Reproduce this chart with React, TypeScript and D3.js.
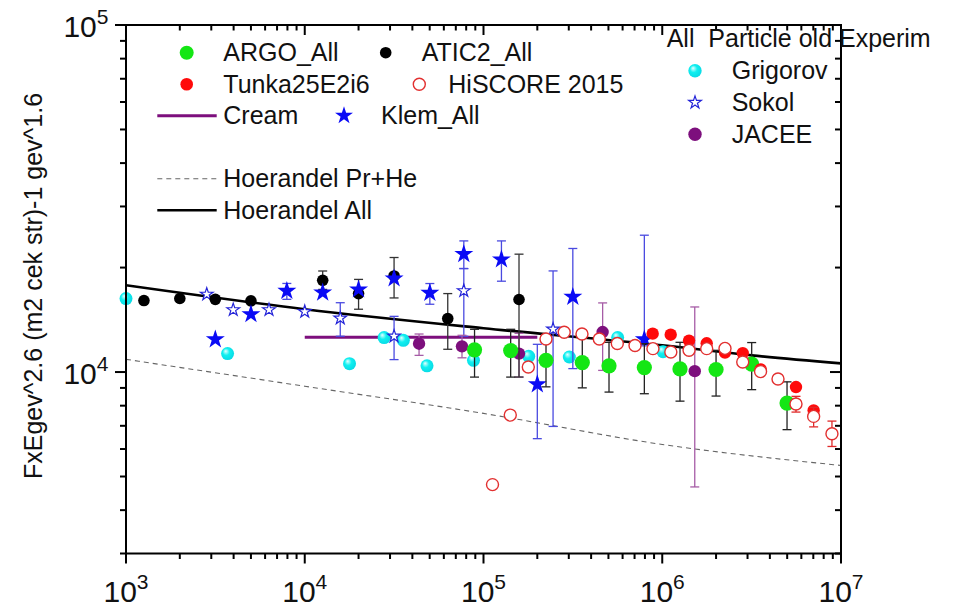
import React from 'react';
import * as d3 from 'd3';

// ---- chart data (energy in GeV, flux × E^2.6) ----

const argoE = [89100, 141900, 223700, 357000, 503700, 794000, 1257000, 2000000, 3165000, 4990000];
const argoF = [11590, 11530, 10810, 10650, 10420, 10300, 10210, 10170, 10540, 8140];
const argoLo = [9670, 9670, 9065, 9003, 8755, 8660, 8244, 8527, 8897, 6823];
const argoHi = [13280, 13280, 12260, 12610, 12180, 12070, 12180, 11550, 12160, 9370];

const aticE = [1260, 2000, 3160, 5000, 12600, 20000, 31600, 63100, 158000];
const aticF = [16070, 16290, 16200, 16030, 18380, 16830, 18920, 14260, 16180];
const aticLo = [NaN, NaN, NaN, NaN, 17300, 15170, 16350, 11630, 9674];
const aticHi = [NaN, NaN, NaN, NaN, 19550, 18490, 21380, 16830, 21860];

const tunkaE = [884000, 1115000, 1412000, 1773000, 2244000, 2820000, 3555000, 5600000, 7030000];
const tunkaF = [12900, 12810, 12320, 12100, 11380, 11340, 10170, 9053, 7754];

const hiscoreE = [112300, 141200, 178100, 223700, 282800, 355600, 444500, 560500, 704000, 887000,
  1117000, 1412000, 1773000, 2244000, 2820000, 3548000, 4442000, 5600000, 7030000, 8900000];
const hiscoreF = [4738, 7516, 10340, 12450, 13020, 12870, 12450, 12080, 11920, 11680,
  11420, 11550, 11680, 11700, 10690, 10030, 9546, 8089, 7451, 6643];
const hiscoreLo = [NaN, NaN, NaN, NaN, NaN, NaN, NaN, NaN, NaN, NaN,
  NaN, NaN, NaN, NaN, NaN, NaN, NaN, 7667, 6950, 6103];
const hiscoreHi = [NaN, NaN, NaN, NaN, NaN, NaN, NaN, NaN, NaN, NaN,
  NaN, NaN, NaN, NaN, NaN, NaN, NaN, 8510, 7909, 7222];

const creamE = [10000, 200000];
const creamF = [12590, 12590];

const klemE = [3160, 5000, 7940, 12600, 20000, 31600, 50100, 77600, 126000, 200000, 316000, 794000];
const klemF = [12420, 14670, 17125, 16940, 17290, 18600, 16900, 21860, 21100, 9215, 16460, 12420];
const klemLo = [NaN, NaN, 16200, NaN, NaN, NaN, 15680, 19870, 18270, 6427, 10230, 11900];
const klemHi = [NaN, NaN, 18000, NaN, NaN, NaN, 17990, 23870, 23870, 12020, 22700, 24790];

const hoerPrHeE = [1e3, 1e4, 1e5, 1e6, 1e7];
const hoerPrHeF = [10880, 9100, 7600, 6185, 5380];

const hoerAllE = [1e3, 1e4, 1e5, 1e6, 3.16e6, 1e7];
const hoerAllF = [17780, 15170, 13370, 11940, 11170, 10590];

const grigorovE = [1000, 3700, 17800, 27800, 35600, 48300, 87900, 179000, 302000, 563000, 1010000];
const grigorovF = [16280, 11300, 10570, 12570, 12340, 10420, 10810, 11100, 11050, 12570, 11450];

const sokolE = [2830, 3980, 6310, 10000, 15800, 31600, 77600, 245000];
const sokolF = [16750, 15110, 15110, 14930, 14290, 12680, 17140, 13280];
const sokolLo = [NaN, NaN, NaN, NaN, 12680, 10860, 12680, 6970];
const sokolHi = [NaN, NaN, NaN, NaN, 15840, 14470, 19870, 19560];

const jaceeE = [43600, 75800, 158000, 464000, 1520000];
const jaceeF = [12070, 11860, 11300, 13040, 10060];
const jaceeLo = [11170, 10990, 9670, 10110, 4666];
const jaceeHi = [12870, 12760, 12930, 15820, 15400];

const xMajorTicks = [1e3, 1e4, 1e5, 1e6, 1e7];
const xTickExp = ['3', '4', '5', '6', '7'];
const yMajorTicks = [1e4, 1e5];
const yTickExp = ['4', '5'];

const yTitle = 'FxEgev^2.6 (m2 cek str)-1 gev^1.6';

// ---- styling ----
const FONT = "'Liberation Sans', Arial, Helvetica, sans-serif";
const W = 956;
const H = 609;
const P = { left: 126, right: 841, top: 25, bottom: 553.5 };

const GREEN = '#14e614';
const RED = '#ff0a0a';
const BLUE = '#0a0af5';
const PURPLE = '#7d0f7d';
const CYAN = '#10f0f0';

type Bars = { E: number[]; lo: number[]; hi: number[] };

export default function App() {
  const x = d3.scaleLog().domain([1e3, 1e7]).range([P.left, P.right]);
  const y = d3.scaleLog().domain([3000, 1e5]).range([P.bottom, P.top]);

  const line = d3
    .line<[number, number]>()
    .x((d) => x(d[0]))
    .y((d) => y(d[1]))
    .curve(d3.curveMonotoneX);

  const zip = (a: number[], b: number[]) => a.map((v, i) => [v, b[i]] as [number, number]);

  const bigStar = d3.symbol().type(d3.symbolStar).size(112)() as string;
  const legendBigStar = d3.symbol().type(d3.symbolStar).size(100)() as string;
  const smallStar = d3.symbol().type(d3.symbolStar).size(50)() as string;

  const xTicks = x.ticks();
  const yTicks = y.ticks();
  const isMajor = (v: number) => Math.abs(Math.log10(v) - Math.round(Math.log10(v))) < 1e-6;

  const errBars = ({ E, lo, hi }: Bars, color: string, key: string, cap = 4.5) =>
    E.map((e, i) => {
      if (!isFinite(lo[i]) || !isFinite(hi[i])) return null;
      const cx = x(e);
      const y1 = y(hi[i]);
      const y2 = y(lo[i]);
      return (
        <g key={`${key}-${i}`} stroke={color} strokeWidth={1.3} fill="none">
          <line x1={cx} x2={cx} y1={y1} y2={y2} />
          <line x1={cx - cap} x2={cx + cap} y1={y1} y2={y1} />
          <line x1={cx - cap} x2={cx + cap} y1={y2} y2={y2} />
        </g>
      );
    });

  const legendRows = [52.7, 84.2, 115.7, 147.2, 178.7, 210.2];
  const rightRows = [70.7, 102.5, 134.3];
  const txt = { fontFamily: FONT, fontSize: 25, fill: '#111' } as const;

  return (
    <svg
      width={W}
      height={H}
      viewBox={`0 0 ${W} ${H}`}
      style={{ position: 'absolute', left: 0, top: 0, background: '#fff' }}
    >
      <defs>
        <radialGradient id="grigorovBall" cx="45%" cy="45%" r="60%" fx="35%" fy="30%">
          <stop offset="0%" stopColor="#e8ffff" />
          <stop offset="45%" stopColor={CYAN} />
          <stop offset="100%" stopColor="#08d8e4" />
        </radialGradient>
        <clipPath id="plotClip">
          <rect x={P.left} y={P.top} width={P.right - P.left} height={P.bottom - P.top} />
        </clipPath>
      </defs>

      <rect x={0} y={0} width={W} height={H} fill="#fff" />

      {/* model curves */}
      <g clipPath="url(#plotClip)" fill="none">
        <path
          d={line(zip(hoerPrHeE, hoerPrHeF)) as string}
          stroke="#666"
          strokeWidth={1.1}
          strokeDasharray="5 4"
        />
        <path d={line(zip(hoerAllE, hoerAllF)) as string} stroke="#000" strokeWidth={2.6} />
        <path d={line(zip(creamE, creamF)) as string} stroke={PURPLE} strokeWidth={3} />
      </g>

      {/* Grigorov */}
      {grigorovE.map((e, i) => (
        <circle key={`gr-${i}`} cx={x(e)} cy={y(grigorovF[i])} r={6.5} fill="url(#grigorovBall)" />
      ))}

      {/* Sokol */}
      {errBars({ E: sokolE, lo: sokolLo, hi: sokolHi }, '#4a4ae0', 'sk')}
      {sokolE.map((e, i) => (
        <path
          key={`sk-${i}`}
          d={smallStar}
          transform={`translate(${x(e)},${y(sokolF[i])})`}
          fill="#fff"
          stroke="#2323d8"
          strokeWidth={1.2}
        />
      ))}

      {/* JACEE */}
      {errBars({ E: jaceeE, lo: jaceeLo, hi: jaceeHi }, '#a65ca6', 'ja')}
      {jaceeE.map((e, i) => (
        <circle key={`ja-${i}`} cx={x(e)} cy={y(jaceeF[i])} r={6.2} fill={PURPLE} />
      ))}

      {/* ATIC2 */}
      {errBars({ E: aticE, lo: aticLo, hi: aticHi }, '#333', 'at')}
      {aticE.map((e, i) => (
        <circle key={`at-${i}`} cx={x(e)} cy={y(aticF[i])} r={5.8} fill="#000" />
      ))}

      {/* Klem */}
      {errBars({ E: klemE, lo: klemLo, hi: klemHi }, '#4a4ae0', 'kl')}
      {klemE.map((e, i) => (
        <path key={`kl-${i}`} d={bigStar} transform={`translate(${x(e)},${y(klemF[i])})`} fill={BLUE} />
      ))}

      {/* ARGO */}
      {errBars({ E: argoE, lo: argoLo, hi: argoHi }, '#222', 'ar')}
      {argoE.map((e, i) => (
        <circle key={`ar-${i}`} cx={x(e)} cy={y(argoF[i])} r={7.6} fill={GREEN} />
      ))}

      {/* Tunka */}
      {tunkaE.map((e, i) => (
        <circle key={`tu-${i}`} cx={x(e)} cy={y(tunkaF[i])} r={6.2} fill={RED} />
      ))}

      {/* HiSCORE */}
      {errBars({ E: hiscoreE, lo: hiscoreLo, hi: hiscoreHi }, '#e02a2a', 'hs')}
      {hiscoreE.map((e, i) => (
        <circle
          key={`hs-${i}`}
          cx={x(e)}
          cy={y(hiscoreF[i])}
          r={6}
          fill="#fff"
          stroke="#e23030"
          strokeWidth={1.4}
        />
      ))}

      {/* frame and ticks */}
      <g stroke="#000" strokeWidth={2} fill="none">
        <rect x={P.left} y={P.top} width={P.right - P.left} height={P.bottom - P.top} />
        {xTicks.map((t, i) => {
          const len = isMajor(t) ? 10 : 5.5;
          const px = x(t);
          return (
            <g key={`xt-${i}`}>
              <line x1={px} x2={px} y1={P.bottom} y2={P.bottom + len} />
              <line x1={px} x2={px} y1={P.top} y2={P.top + len} />
            </g>
          );
        })}
        {yTicks.map((t, i) => {
          const len = isMajor(t) ? 11 : 6;
          const py = y(t);
          return (
            <g key={`yt-${i}`}>
              <line x1={P.left - len} x2={P.left} y1={py} y2={py} />
              <line x1={P.right - len} x2={P.right} y1={py} y2={py} />
            </g>
          );
        })}
      </g>

      {/* tick labels */}
      {xMajorTicks.map((t, i) => (
        <text key={`xl-${i}`} x={x(t)} y={601.5} textAnchor="middle" fontFamily={FONT} fontSize={30} fill="#111">
          <tspan>10</tspan>
          <tspan fontSize={21} dy={-13}>
            {xTickExp[i]}
          </tspan>
        </text>
      ))}
      {yMajorTicks.map((t, i) => (
        <text key={`yl-${i}`} x={108.5} y={y(t) + 12.3} textAnchor="end" fontFamily={FONT} fontSize={30} fill="#111">
          <tspan>10</tspan>
          <tspan fontSize={21} dy={-13}>
            {yTickExp[i]}
          </tspan>
        </text>
      ))}

      {/* axis title */}
      <text
        transform="translate(41.5,286) rotate(-90)"
        textAnchor="middle"
        fontFamily={FONT}
        fontSize={25}
        fill="#111"
      >
        {yTitle}
      </text>

      {/* legend, left block */}
      <g>
        <circle cx={186.7} cy={legendRows[0]} r={7} fill={GREEN} />
        <text x={223.3} y={legendRows[0] + 8.7} {...txt}>ARGO_All</text>
        <circle cx={385.7} cy={legendRows[0]} r={5.8} fill="#000" />
        <text x={421.7} y={legendRows[0] + 8.7} {...txt}>ATIC2_All</text>

        <circle cx={186.7} cy={legendRows[1]} r={6.3} fill={RED} />
        <text x={223.3} y={legendRows[1] + 8.7} {...txt}>Tunka25E2i6</text>
        <circle cx={419.3} cy={legendRows[1]} r={6} fill="#fff" stroke="#e23030" strokeWidth={1.4} />
        <text x={448.3} y={legendRows[1] + 8.7} {...txt}>HiSCORE 2015</text>

        <line x1={157.3} x2={216.7} y1={legendRows[2]} y2={legendRows[2]} stroke={PURPLE} strokeWidth={3} />
        <text x={223.3} y={legendRows[2] + 8.7} {...txt}>Cream</text>
        <path d={legendBigStar} transform={`translate(344,${legendRows[2]})`} fill={BLUE} />
        <text x={381} y={legendRows[2] + 8.7} {...txt}>Klem_All</text>

        <line
          x1={157.3}
          x2={216.7}
          y1={legendRows[4]}
          y2={legendRows[4]}
          stroke="#666"
          strokeWidth={1.1}
          strokeDasharray="5 4"
        />
        <text x={223.3} y={legendRows[4] + 8.7} {...txt}>Hoerandel Pr+He</text>
        <line x1={157.3} x2={216.7} y1={legendRows[5]} y2={legendRows[5]} stroke="#000" strokeWidth={2.6} />
        <text x={223.3} y={legendRows[5] + 8.7} {...txt}>Hoerandel All</text>
      </g>

      {/* legend, right block */}
      <g>
        <text x={666.7} y={46.7} {...txt} style={{ whiteSpace: 'pre' }}>
          {'All  Particle old Experim'}
        </text>
        <circle cx={695} cy={rightRows[0]} r={6.7} fill="url(#grigorovBall)" />
        <text x={731.7} y={rightRows[0] + 8.5} {...txt}>Grigorov</text>
        <path
          d={smallStar}
          transform={`translate(695,${rightRows[1]})`}
          fill="#fff"
          stroke="#2323d8"
          strokeWidth={1.2}
        />
        <text x={731.7} y={rightRows[1] + 8.5} {...txt}>Sokol</text>
        <circle cx={695} cy={rightRows[2]} r={6.7} fill={PURPLE} />
        <text x={731.7} y={rightRows[2] + 8.5} {...txt}>JACEE</text>
      </g>
    </svg>
  );
}
